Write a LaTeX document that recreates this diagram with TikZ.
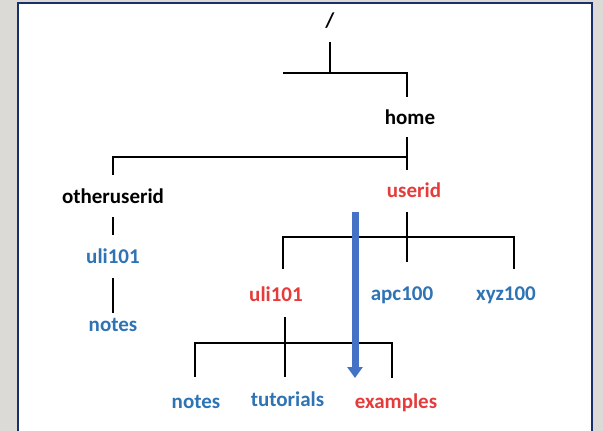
\documentclass[tikz,border=0pt]{standalone}
\usepackage{fontspec}
\setmainfont{Carlito}
\usetikzlibrary{arrows.meta, positioning}
\definecolor{dirblue}{HTML}{2E74B5}
\definecolor{dirred}{HTML}{E63B3B}
\definecolor{framenavy}{HTML}{1B2F6B}
\definecolor{arrowblue}{HTML}{4472C4}
\definecolor{pagegray}{HTML}{DCDAD6}
\tikzset{
  dirname/.style={%
    font=\bfseries\fontsize{21}{21}\selectfont,
    text height=14pt,
    text depth=4.5pt,
    inner sep=0pt,
  },
  branch/.style={draw=black, line width=1.8pt},
  cdpath/.style={%
    draw=arrowblue,
    line width=7pt,
    -{Triangle[length=11pt,width=15pt]},
  }
}

\begin{document}
\begin{tikzpicture}[x=1pt,y=-1pt]
    \useasboundingbox (0,0) rectangle (603,431);
    \fill[pagegray] (0,0) rectangle (603,431);
    \draw[framenavy, line width=2pt, fill=white] (18,3) rectangle (592,450);

    \node[dirname] (root) at (330,23) {/};
    \node[dirname] (home) at (410,120) {home};
    \node[dirname] (other) at (113,198.5) {otheruserid};
    \node[dirname, dirblue] (otheruli) at (113,258.5) {uli101};
    \node[dirname, dirblue] (othernotes) at (113,327) {notes};
    \node[dirname, dirred] (userid) at (414,193) {userid};
    \node[dirname, dirred] (uli) at (276,297) {uli101};
    \node[dirname, dirblue] (apc) at (402,296) {apc100};
    \node[dirname, dirblue] (xyz) at (506,296) {xyz100};
    \node[dirname, dirblue] (notes) at (196,403.5) {notes};
    \node[dirname, dirblue] (tutorials) at (287.5,402) {tutorials};
    \node[dirname, dirred] (examples) at (396,403.5) {examples};

    \coordinate (topstub) at (283,73);
    \coordinate (topbar) at (330,73);
    \coordinate (homebar) at (407,157);
    \coordinate (userbar) at (407,237);
    \coordinate (userbarL) at (283,237);
    \coordinate (userbarR) at (514,237);
    \coordinate (ulibar) at (285,343);
    \coordinate (ulibarL) at (195,343);
    \coordinate (ulibarR) at (392,343);

    % tree
    \draw[branch, shorten <=10pt] (root.south) -- (topbar);
    \draw[branch, shorten >=13.75pt] (topstub) -- (topbar) -| (homebar |- home.north);
    \draw[branch, shorten <=7.75pt, shorten >=13.75pt] (homebar |- home.south) -- (homebar |- userid.north);
    \draw[branch, shorten >=14pt] (homebar) -| (other.north);
    \draw[branch, shorten <=9pt, shorten >=14pt] (other.south) -- (otheruli.north);
    \draw[branch, shorten <=10.5pt, shorten >=4.5pt] (otheruli.south) -- (othernotes.north);
    \draw[branch, shorten <=10pt, shorten >=25pt] (userbar |- userid.south) -- (userbar |- apc.north);
    \draw[branch, shorten <=19pt, shorten >=18pt] (userbarL |- uli.north) -- (userbarL) -- (userbarR) -- (userbarR |- xyz.north);
    \draw[branch, shorten <=11pt, shorten >=16pt] (ulibar |- uli.south) -- (ulibar |- tutorials.north);
    \draw[branch, shorten <=17pt, shorten >=16pt] (ulibarL |- notes.north) -- (ulibarL) -- (ulibarR) -- (ulibarR |- examples.north);

    % cd path
    \coordinate (pathtop) at (355,212);
    \coordinate (pathtip) at (355,378);
    \draw[cdpath] (pathtop) -- (pathtip);
\end{tikzpicture}
\end{document}
